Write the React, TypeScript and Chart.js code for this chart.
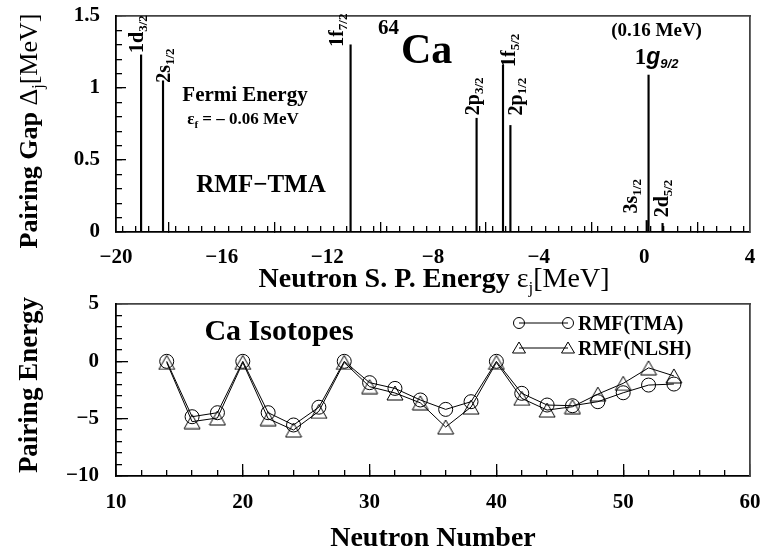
import React, { useEffect, useRef } from "react";
import { Chart, registerables } from "chart.js";

Chart.register(...registerables);

// ---------- data ----------
const levelNames = ["1d", "2s", "1f", "2p", "1f", "2p", "3s", "1g", "2d"];
const levelSubs = ["3/2", "1/2", "7/2", "3/2", "5/2", "1/2", "1/2", "9/2", "5/2"];
const levelEnergies = [-19.05, -18.22, -11.12, -6.35, -5.35, -5.07, 0.09, 0.16, 0.69];
const levelGaps = [1.23, 1.05, 1.3, 0.79, 1.16, 0.74, 0.08, 1.09, 0.06];
const fermiEnergy = -0.06;

const neutronNumbers = [14, 16, 18, 20, 22, 24, 26, 28, 30, 32, 34, 36, 38, 40, 42, 44, 46, 48, 50, 52, 54];
const tmaPairing = [0, -4.83, -4.48, 0, -4.48, -5.55, -4.0, 0, -1.86, -2.36, -3.37, -4.19, -3.52, 0, -2.79, -3.81, -3.87, -3.52, -2.74, -2.07, -1.98];
const nlshPairing = [-0.1, -5.26, -4.94, -0.1, -5.0, -5.99, -4.36, -0.1, -2.21, -2.76, -3.62, -5.73, -3.99, -0.1, -3.23, -4.25, -3.96, -2.86, -1.92, -0.57, -1.27];

const topXTicks = { min: -20, max: 4, step: 4, minor: 0.5 };
const topYTicks = { min: 0, max: 1.5, step: 0.5, minor: 0.1 };
const botXTicks = { min: 10, max: 60, step: 10, minor: 2 };
const botYTicks = { min: -10, max: 5, step: 5, minor: 1 };

// ---------- layout (not data) ----------
const labelDx = [2, 7, -8, 2, 12, 12, -10, 8, 5];
const labelGap = [2, -2, -2, 3, -2, 10, 7, 11, 6];

const SERIF = '"Liberation Serif", "Times New Roman", serif';
const SANS = '"Liberation Sans", Arial, sans-serif';
const fB = (s: number) => `bold ${s}px ${SERIF}`;
const fR = (s: number) => `${s}px ${SERIF}`;

type Part = { t: string; f: string; dy?: number; dx?: number };

function drawRich(ctx: CanvasRenderingContext2D, parts: Part[], x: number, y: number, align = "left", rotate = false) {
  ctx.save();
  ctx.translate(x, y);
  if (rotate) ctx.rotate(-Math.PI / 2);
  ctx.textBaseline = "alphabetic";
  ctx.textAlign = "left";
  ctx.fillStyle = "#000";
  let w = 0;
  for (const p of parts) {
    ctx.font = p.f;
    w += ctx.measureText(p.t).width + (p.dx || 0);
  }
  let cx = align === "center" ? -w / 2 : align === "right" ? -w : 0;
  for (const p of parts) {
    ctx.font = p.f;
    cx += p.dx || 0;
    ctx.fillText(p.t, cx, p.dy || 0);
    cx += ctx.measureText(p.t).width;
  }
  ctx.restore();
}

function fmt(v: number) {
  const s = String(Math.abs(Math.round(v * 100) / 100));
  return v < 0 ? "\u2212" + s : s;
}

const zeroPad = (s: any) => {
  s.paddingTop = 0;
  s.paddingBottom = 0;
  s.paddingLeft = 0;
  s.paddingRight = 0;
};

// native Chart.js axes: main labelled axes with inward major ticks,
// extra unlabelled axes for inward minor ticks and for the top/right frame
function buildScales(xt: any, yt: any, majLen: number, minLen: number, xPad: number, yPad: number, xH: number) {
  const tickFont = { family: SERIF, size: 21, weight: "bold" };
  const tickGrid = (len: number) => ({
    display: true,
    drawOnChartArea: false,
    drawTicks: true,
    tickLength: -len,
    color: "#000",
    tickColor: "#000",
    tickWidth: 1.3,
    lineWidth: 1.3,
  });
  return {
    x: {
      type: "linear",
      axis: "x",
      position: "bottom",
      offset: false,
      min: xt.min,
      max: xt.max,
      weight: 0,
      grid: tickGrid(majLen),
      border: { display: true, color: "#000", width: 1.8 },
      ticks: { stepSize: xt.step, font: tickFont, color: "#000", padding: xPad + majLen, maxRotation: 0, autoSkip: false, callback: (v: any) => fmt(Number(v)) },
      afterFit: (s: any) => {
        s.height = xH;
        zeroPad(s);
      },
    },
    xMinor: {
      type: "linear",
      axis: "x",
      position: "bottom",
      offset: false,
      min: xt.min,
      max: xt.max,
      weight: -1,
      grid: tickGrid(minLen),
      border: { display: false },
      ticks: { display: false, stepSize: xt.minor },
      afterFit: (s: any) => {
        s.height = 0;
        zeroPad(s);
      },
    },
    xTop: {
      type: "linear",
      axis: "x",
      position: "top",
      min: xt.min,
      max: xt.max,
      grid: { display: false },
      border: { display: true, color: "#444", width: 1.8 },
      ticks: { display: false },
      afterFit: (s: any) => {
        s.height = 0;
        zeroPad(s);
      },
    },
    y: {
      type: "linear",
      axis: "y",
      position: "left",
      min: yt.min,
      max: yt.max,
      weight: 0,
      grid: tickGrid(majLen),
      border: { display: true, color: "#000", width: 1.8 },
      ticks: { stepSize: yt.step, font: tickFont, color: "#000", padding: yPad + majLen, autoSkip: false, callback: (v: any) => fmt(Number(v)) },
      afterFit: (s: any) => {
        s.width = 116;
        zeroPad(s);
      },
    },
    yMinor: {
      type: "linear",
      axis: "y",
      position: "left",
      min: yt.min,
      max: yt.max,
      weight: -1,
      grid: tickGrid(minLen),
      border: { display: false },
      ticks: { display: false, stepSize: yt.minor },
      afterFit: (s: any) => {
        s.width = 0;
        zeroPad(s);
      },
    },
    yRight: {
      type: "linear",
      axis: "y",
      position: "right",
      min: yt.min,
      max: yt.max,
      grid: { display: false },
      border: { display: true, color: "#444", width: 1.8 },
      ticks: { display: false },
      afterFit: (s: any) => {
        s.width = 0;
        zeroPad(s);
      },
    },
  };
}

function makeTriangle(w: number, h: number) {
  const c = document.createElement("canvas");
  c.width = w + 2;
  c.height = h + 2;
  const g = c.getContext("2d")!;
  g.strokeStyle = "#000";
  g.lineWidth = 1;
  g.beginPath();
  g.moveTo(1 + w / 2, 1);
  g.lineTo(1, 1 + h);
  g.lineTo(1 + w, 1 + h);
  g.closePath();
  g.stroke();
  return c;
}

const topPlugin = {
  id: "topDeco",
  afterDraw(chart: any) {
    const ctx = chart.ctx as CanvasRenderingContext2D;
    const xs = chart.scales.x;
    const ys = chart.scales.y;
    for (let i = 0; i < levelNames.length; i++) {
      const px = xs.getPixelForValue(levelEnergies[i]);
      const py = ys.getPixelForValue(levelGaps[i]);
      if (levelSubs[i] === "9/2") {
        drawRich(ctx, [{ t: `(${levelEnergies[i].toFixed(2)} MeV)`, f: fB(19) }], px + 8, py - 39, "center");
        drawRich(
          ctx,
          [
            { t: levelNames[i][0], f: fB(23) },
            { t: levelNames[i].slice(1), f: `italic bold 23px ${SANS}` },
            { t: levelSubs[i], f: `italic bold 13px ${SANS}`, dy: 4 },
          ],
          px + 8,
          py - labelGap[i],
          "center"
        );
      } else {
        drawRich(
          ctx,
          [
            { t: levelNames[i], f: fB(20) },
            { t: levelSubs[i], f: fB(13), dy: 4 },
          ],
          px + labelDx[i],
          py - labelGap[i],
          "left",
          true
        );
      }
    }
    drawRich(ctx, [{ t: "64", f: fB(21), dy: -29 }, { t: "Ca", f: fB(42), dx: 2 }], 378, 63, "left");
    drawRich(ctx, [{ t: "Fermi Energy", f: fB(21) }], 245, 101, "center");
    drawRich(
      ctx,
      [
        { t: "\u03b5", f: fB(17) },
        { t: "f", f: fB(11), dy: 4 },
        { t: " = \u2013 " + Math.abs(fermiEnergy).toFixed(2) + " MeV", f: fB(17) },
      ],
      243,
      124,
      "center"
    );
    drawRich(ctx, [{ t: "RMF\u2212TMA", f: fB(25) }], 261, 192, "center");
    drawRich(
      ctx,
      [
        { t: "Pairing Gap ", f: fB(26) },
        { t: "\u0394", f: fR(26) },
        { t: "j", f: fR(16), dy: 6 },
        { t: "[MeV]", f: fR(26) },
      ],
      37,
      131,
      "center",
      true
    );
    drawRich(
      ctx,
      [
        { t: "Neutron S. P. Energy ", f: fB(28) },
        { t: "\u03b5", f: fR(28) },
        { t: "j", f: fR(17), dy: 6 },
        { t: "[MeV]", f: fR(28) },
      ],
      434,
      287,
      "center"
    );
  },
};

const botPlugin = {
  id: "botDeco",
  afterDraw(chart: any) {
    const ctx = chart.ctx as CanvasRenderingContext2D;
    drawRich(ctx, [{ t: "Ca Isotopes", f: fB(30) }], 279, 60, "center");
    drawRich(ctx, [{ t: "Pairing Energy", f: fB(27) }], 37, 105, "center", true);
    drawRich(ctx, [{ t: "Neutron Number", f: fB(28) }], 433, 266, "center");
    ctx.save();
    ctx.strokeStyle = "#000";
    ctx.lineWidth = 1;
    const x1 = 519, x2 = 568, y1 = 43, y2 = 68;
    ctx.beginPath();
    ctx.moveTo(x1, y1);
    ctx.lineTo(x2, y1);
    ctx.moveTo(x1, y2);
    ctx.lineTo(x2, y2);
    ctx.stroke();
    for (const x of [x1, x2]) {
      ctx.beginPath();
      ctx.arc(x, y1, 5.5, 0, Math.PI * 2);
      ctx.stroke();
      ctx.beginPath();
      ctx.moveTo(x, y2 - 6);
      ctx.lineTo(x - 6.5, y2 + 5);
      ctx.lineTo(x + 6.5, y2 + 5);
      ctx.closePath();
      ctx.stroke();
    }
    ctx.restore();
    drawRich(ctx, [{ t: "RMF(TMA)", f: fB(20) }], 578, y1 + 7, "left");
    drawRich(ctx, [{ t: "RMF(NLSH)", f: fB(20) }], 578, y2 + 7, "left");
  },
};

export default function App() {
  const topRef = useRef<HTMLCanvasElement>(null);
  const botRef = useRef<HTMLCanvasElement>(null);

  useEffect(() => {
    const tri = makeTriangle(16, 14);

    const topChart = new Chart(topRef.current!, {
      type: "bar",
      data: {
        datasets: [
          {
            xAxisID: "x",
            yAxisID: "y",
            data: levelEnergies.map((e, i) => ({ x: e, y: levelGaps[i] })),
            backgroundColor: "#000",
            borderWidth: 0,
            barThickness: 1.5,
          },
        ],
      },
      options: {
        animation: false,
        responsive: false,
        layout: { padding: { top: 16, left: 0, right: 16, bottom: 0 } },
        plugins: { legend: { display: false }, tooltip: { enabled: false } },
        scales: buildScales(topXTicks, topYTicks, 10, 6, 13, 16, 68),
      } as any,
      plugins: [topPlugin],
    });

    const botChart = new Chart(botRef.current!, {
      type: "line",
      data: {
        datasets: [
          {
            xAxisID: "x",
            yAxisID: "y",
            data: neutronNumbers.map((n, i) => ({ x: n, y: tmaPairing[i] })),
            borderColor: "#000",
            borderWidth: 1,
            pointStyle: "circle",
            pointRadius: 7,
            pointBorderWidth: 1,
            pointBorderColor: "#000",
            pointBackgroundColor: "rgba(0,0,0,0)",
            tension: 0,
          },
          {
            xAxisID: "x",
            yAxisID: "y",
            data: neutronNumbers.map((n, i) => ({ x: n, y: nlshPairing[i] })),
            borderColor: "#000",
            borderWidth: 1,
            pointStyle: tri,
            pointRadius: 8,
            tension: 0,
          },
        ],
      },
      options: {
        animation: false,
        responsive: false,
        layout: { padding: { top: 24, left: 0, right: 16, bottom: 0 } },
        plugins: { legend: { display: false }, tooltip: { enabled: false } },
        scales: buildScales(botXTicks, botYTicks, 12, 6, 14, 17, 77),
      } as any,
      plugins: [botPlugin],
    });

    return () => {
      topChart.destroy();
      botChart.destroy();
    };
  }, []);

  return (
    <div style={{ position: "fixed", left: 0, top: 0, width: 766, height: 553, background: "#fff" }}>
      <canvas ref={topRef} width={766} height={300} style={{ position: "absolute", left: 0, top: 0 }} />
      <canvas ref={botRef} width={766} height={273} style={{ position: "absolute", left: 0, top: 280 }} />
    </div>
  );
}
